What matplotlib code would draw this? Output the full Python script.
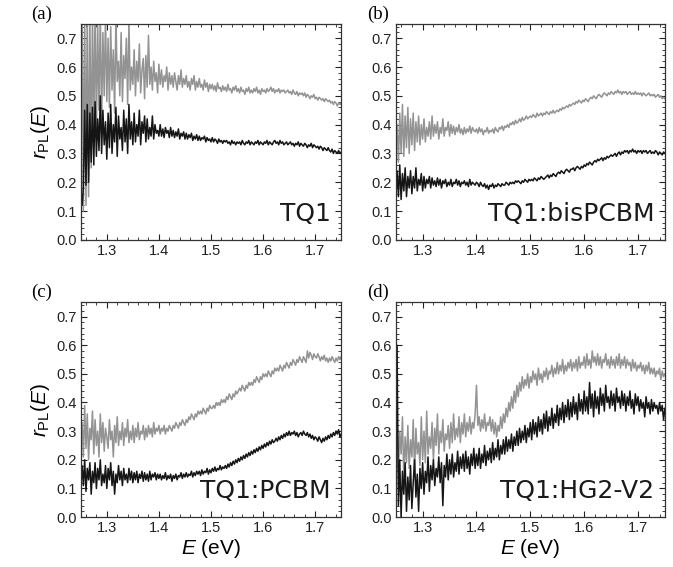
import numpy as np
import matplotlib as mpl
mpl.use('Agg')
import matplotlib.pyplot as plt
from matplotlib.ticker import MultipleLocator

plt.rcParams['font.family'] = ['Liberation Sans', 'DejaVu Sans']
plt.rcParams['mathtext.fontset'] = 'custom'
plt.rcParams['mathtext.rm'] = 'Liberation Sans'
plt.rcParams['mathtext.it'] = 'Liberation Sans:italic'

# energy range (eV); each series is sampled on an even grid of 0.0025 eV
e_min, e_max = 1.25, 1.75

# (a) TQ1
a_gray = [0.10,
          0.80, 0.10, 0.80, 0.12, 0.82, 0.15, 0.78, 0.25, 0.80, 0.35,
          0.82, 0.38, 0.75, 0.45, 0.80, 0.40, 0.72, 0.50, 0.78, 0.48,
          0.70, 0.46, 0.74, 0.52, 0.66, 0.44, 0.78, 0.55, 0.62, 0.50,
          0.72, 0.48, 0.64, 0.56, 0.70, 0.47, 0.76, 0.52, 0.60, 0.54,
          0.66, 0.50, 0.62, 0.55, 0.68, 0.51, 0.59, 0.63, 0.49, 0.64,
          0.53, 0.71, 0.54, 0.60, 0.52, 0.62, 0.55, 0.58, 0.51, 0.61,
          0.54, 0.59, 0.53, 0.57, 0.55, 0.60, 0.52, 0.58, 0.54, 0.57,
          0.53, 0.58, 0.55, 0.52, 0.57, 0.54, 0.59, 0.53, 0.56, 0.54,
          0.57, 0.53, 0.55, 0.52, 0.56, 0.54, 0.57, 0.52, 0.55, 0.53,
          0.56, 0.53, 0.54, 0.52, 0.555, 0.53, 0.545, 0.515, 0.54, 0.525,
          0.54, 0.52, 0.535, 0.515, 0.545, 0.525, 0.53, 0.515, 0.535, 0.52,
          0.53, 0.515, 0.54, 0.52, 0.525, 0.51, 0.53, 0.52, 0.535, 0.515,
          0.525, 0.51, 0.53, 0.515, 0.52, 0.505, 0.525, 0.515, 0.53, 0.51,
          0.52, 0.51, 0.525, 0.515, 0.53, 0.51, 0.52, 0.505, 0.525, 0.515,
          0.52, 0.51, 0.525, 0.515, 0.52, 0.53, 0.515, 0.525, 0.51, 0.52,
          0.515, 0.525, 0.51, 0.52, 0.515, 0.52, 0.51, 0.515, 0.52, 0.51,
          0.515, 0.505, 0.52, 0.51, 0.505, 0.515, 0.50, 0.51, 0.505, 0.51,
          0.50, 0.51, 0.495, 0.505, 0.50, 0.49, 0.50, 0.495, 0.505, 0.49,
          0.495, 0.485, 0.495, 0.49, 0.485, 0.49, 0.48, 0.49, 0.485, 0.48,
          0.485, 0.475, 0.48, 0.47, 0.48, 0.475, 0.465, 0.475, 0.47, 0.475]
a_black = [0.14,
           0.12, 0.18, 0.45, 0.19, 0.47, 0.20, 0.44, 0.27, 0.46, 0.26,
           0.48, 0.29, 0.42, 0.31, 0.50, 0.30, 0.45, 0.33, 0.41, 0.28,
           0.44, 0.32, 0.47, 0.30, 0.40, 0.34, 0.46, 0.29, 0.43, 0.35,
           0.39, 0.31, 0.45, 0.34, 0.42, 0.30, 0.47, 0.35, 0.41, 0.33,
           0.44, 0.34, 0.40, 0.36, 0.45, 0.33, 0.41, 0.37, 0.43, 0.34,
           0.42, 0.35, 0.39, 0.36, 0.43, 0.35, 0.40, 0.37, 0.38, 0.36,
           0.40, 0.36, 0.385, 0.355, 0.39, 0.37, 0.38, 0.355, 0.39, 0.36,
           0.38, 0.355, 0.375, 0.36, 0.385, 0.35, 0.37, 0.36, 0.375, 0.35,
           0.37, 0.35, 0.365, 0.355, 0.37, 0.345, 0.36, 0.35, 0.365, 0.345,
           0.36, 0.345, 0.355, 0.35, 0.36, 0.34, 0.355, 0.345, 0.35, 0.34,
           0.355, 0.34, 0.35, 0.345, 0.335, 0.35, 0.34, 0.345, 0.335, 0.345,
           0.34, 0.345, 0.335, 0.34, 0.33, 0.345, 0.335, 0.34, 0.33, 0.34,
           0.335, 0.34, 0.33, 0.345, 0.335, 0.33, 0.34, 0.335, 0.345, 0.33,
           0.34, 0.335, 0.33, 0.34, 0.335, 0.345, 0.33, 0.34, 0.335, 0.33,
           0.34, 0.335, 0.345, 0.33, 0.34, 0.335, 0.33, 0.34, 0.345, 0.335,
           0.34, 0.33, 0.345, 0.335, 0.34, 0.33, 0.335, 0.34, 0.33, 0.335,
           0.34, 0.33, 0.335, 0.325, 0.335, 0.33, 0.34, 0.325, 0.335, 0.33,
           0.325, 0.335, 0.33, 0.32, 0.33, 0.325, 0.335, 0.32, 0.33, 0.325,
           0.32, 0.325, 0.315, 0.325, 0.32, 0.31, 0.32, 0.315, 0.31, 0.32,
           0.31, 0.305, 0.315, 0.30, 0.31, 0.305, 0.30, 0.31, 0.30, 0.305]

# (b) TQ1:bisPCBM
b_gray = [0.29,
          0.40, 0.27, 0.44, 0.30, 0.47, 0.29, 0.43, 0.32, 0.46, 0.30,
          0.42, 0.33, 0.44, 0.31, 0.41, 0.34, 0.43, 0.33, 0.40, 0.35,
          0.42, 0.34, 0.39, 0.36, 0.41, 0.35, 0.43, 0.36, 0.40, 0.37,
          0.41, 0.35, 0.39, 0.37, 0.42, 0.36, 0.39, 0.38, 0.41, 0.36,
          0.40, 0.37, 0.395, 0.365, 0.39, 0.375, 0.40, 0.37, 0.385, 0.365,
          0.39, 0.37, 0.385, 0.375, 0.395, 0.37, 0.39, 0.38, 0.375, 0.385,
          0.37, 0.39, 0.375, 0.385, 0.365, 0.38, 0.375, 0.39, 0.37, 0.38,
          0.375, 0.385, 0.37, 0.39, 0.38, 0.375, 0.39, 0.385, 0.395, 0.38,
          0.395, 0.39, 0.40, 0.39, 0.405, 0.40, 0.41, 0.40, 0.415, 0.405,
          0.41, 0.42, 0.41, 0.425, 0.415, 0.42, 0.43, 0.42, 0.425, 0.43,
          0.425, 0.435, 0.43, 0.425, 0.44, 0.43, 0.435, 0.44, 0.43, 0.44,
          0.435, 0.445, 0.44, 0.435, 0.445, 0.44, 0.45, 0.44, 0.445, 0.45,
          0.445, 0.455, 0.45, 0.46, 0.455, 0.46, 0.465, 0.46, 0.47, 0.465,
          0.47, 0.475, 0.47, 0.48, 0.475, 0.485, 0.48, 0.475, 0.485, 0.48,
          0.49, 0.485, 0.48, 0.49, 0.495, 0.49, 0.50, 0.495, 0.49, 0.50,
          0.505, 0.50, 0.495, 0.505, 0.51, 0.505, 0.50, 0.51, 0.505, 0.515,
          0.51, 0.505, 0.515, 0.51, 0.52, 0.51, 0.515, 0.505, 0.515, 0.51,
          0.515, 0.505, 0.51, 0.515, 0.505, 0.51, 0.505, 0.515, 0.505, 0.51,
          0.505, 0.51, 0.50, 0.51, 0.505, 0.50, 0.505, 0.51, 0.50, 0.505,
          0.50, 0.505, 0.495, 0.50, 0.505, 0.495, 0.50, 0.49, 0.495, 0.49]
b_black = [0.13,
           0.24, 0.15, 0.26, 0.14, 0.23, 0.17, 0.25, 0.15, 0.22, 0.18,
           0.24, 0.16, 0.22, 0.18, 0.25, 0.17, 0.21, 0.19, 0.23, 0.17,
           0.22, 0.18, 0.21, 0.195, 0.22, 0.18, 0.215, 0.19, 0.205, 0.185,
           0.215, 0.19, 0.21, 0.18, 0.205, 0.195, 0.21, 0.185, 0.20, 0.19,
           0.21, 0.185, 0.20, 0.195, 0.21, 0.19, 0.205, 0.185, 0.20, 0.195,
           0.205, 0.19, 0.20, 0.185, 0.21, 0.19, 0.20, 0.195, 0.19, 0.20,
           0.195, 0.185, 0.20, 0.19, 0.185, 0.195, 0.18, 0.19, 0.175, 0.19,
           0.185, 0.195, 0.18, 0.19, 0.185, 0.195, 0.19, 0.185, 0.195, 0.19,
           0.19, 0.20, 0.195, 0.19, 0.20, 0.195, 0.20, 0.195, 0.205, 0.20,
           0.205, 0.20, 0.195, 0.205, 0.20, 0.21, 0.205, 0.20, 0.21, 0.205,
           0.21, 0.205, 0.215, 0.21, 0.205, 0.215, 0.21, 0.22, 0.215, 0.21,
           0.215, 0.22, 0.225, 0.215, 0.225, 0.22, 0.23, 0.225, 0.22, 0.23,
           0.235, 0.23, 0.24, 0.235, 0.23, 0.24, 0.245, 0.24, 0.235, 0.245,
           0.245, 0.25, 0.24, 0.25, 0.255, 0.25, 0.245, 0.255, 0.25, 0.26,
           0.255, 0.265, 0.26, 0.27, 0.265, 0.26, 0.27, 0.275, 0.27, 0.28,
           0.275, 0.28, 0.285, 0.275, 0.285, 0.28, 0.29, 0.285, 0.29, 0.295,
           0.29, 0.295, 0.30, 0.29, 0.30, 0.305, 0.295, 0.305, 0.30, 0.31,
           0.305, 0.31, 0.30, 0.31, 0.305, 0.315, 0.305, 0.31, 0.30, 0.31,
           0.305, 0.31, 0.30, 0.31, 0.305, 0.31, 0.30, 0.305, 0.31, 0.30,
           0.305, 0.30, 0.31, 0.305, 0.295, 0.305, 0.30, 0.295, 0.305, 0.30]

# (c) TQ1:PCBM
c_gray = [0.22,
          0.33, 0.21, 0.39, 0.24, 0.36, 0.20, 0.31, 0.27, 0.37, 0.22,
          0.34, 0.25, 0.30, 0.21, 0.36, 0.26, 0.33, 0.23, 0.31, 0.28,
          0.24, 0.34, 0.27, 0.30, 0.21, 0.32, 0.26, 0.35, 0.25, 0.30,
          0.27, 0.33, 0.25, 0.31, 0.28, 0.34, 0.26, 0.30, 0.27, 0.32,
          0.26, 0.31, 0.28, 0.33, 0.27, 0.30, 0.29, 0.32, 0.27, 0.31,
          0.28, 0.32, 0.29, 0.31, 0.28, 0.33, 0.29, 0.31, 0.30, 0.32,
          0.29, 0.31, 0.30, 0.32, 0.29, 0.31, 0.30, 0.32, 0.31, 0.30,
          0.32, 0.31, 0.33, 0.32, 0.31, 0.33, 0.32, 0.34, 0.33, 0.32,
          0.34, 0.33, 0.35, 0.34, 0.36, 0.35, 0.34, 0.36, 0.35, 0.37,
          0.36, 0.37, 0.36, 0.38, 0.37, 0.36, 0.38, 0.37, 0.39, 0.38,
          0.38, 0.39, 0.38, 0.40, 0.39, 0.40, 0.39, 0.41, 0.40, 0.41,
          0.40, 0.42, 0.41, 0.43, 0.42, 0.41, 0.43, 0.42, 0.44, 0.43,
          0.44, 0.45, 0.44, 0.46, 0.45, 0.44, 0.46, 0.45, 0.47, 0.46,
          0.47, 0.46, 0.48, 0.47, 0.49, 0.48, 0.47, 0.49, 0.48, 0.50,
          0.49, 0.50, 0.49, 0.51, 0.50, 0.49, 0.51, 0.50, 0.52, 0.51,
          0.52, 0.51, 0.53, 0.52, 0.51, 0.53, 0.52, 0.54, 0.53, 0.52,
          0.54, 0.53, 0.55, 0.54, 0.53, 0.55, 0.54, 0.56, 0.55, 0.54,
          0.56, 0.55, 0.54, 0.58, 0.555, 0.575, 0.565, 0.55, 0.57, 0.56,
          0.555, 0.57, 0.56, 0.545, 0.56, 0.55, 0.565, 0.545, 0.555, 0.54,
          0.555, 0.545, 0.56, 0.55, 0.54, 0.555, 0.545, 0.56, 0.55, 0.56]
c_black = [0.10,
           0.18, 0.11, 0.20, 0.09, 0.17, 0.13, 0.19, 0.08, 0.16, 0.12,
           0.19, 0.10, 0.17, 0.13, 0.20, 0.11, 0.15, 0.12, 0.18, 0.10,
           0.17, 0.13, 0.19, 0.11, 0.16, 0.08, 0.15, 0.12, 0.18, 0.13,
           0.16, 0.11, 0.17, 0.13, 0.15, 0.12, 0.17, 0.13, 0.16, 0.12,
           0.155, 0.13, 0.16, 0.12, 0.15, 0.135, 0.16, 0.125, 0.155, 0.13,
           0.15, 0.125, 0.16, 0.13, 0.15, 0.14, 0.155, 0.13, 0.15, 0.135,
           0.15, 0.13, 0.145, 0.135, 0.155, 0.13, 0.145, 0.135, 0.15, 0.125,
           0.145, 0.135, 0.15, 0.13, 0.145, 0.14, 0.155, 0.135, 0.15, 0.14,
           0.155, 0.14, 0.15, 0.145, 0.16, 0.14, 0.155, 0.145, 0.16, 0.15,
           0.16, 0.145, 0.165, 0.15, 0.16, 0.155, 0.17, 0.15, 0.165, 0.155,
           0.17, 0.16, 0.175, 0.16, 0.17, 0.165, 0.18, 0.165, 0.175, 0.17,
           0.18, 0.17, 0.185, 0.175, 0.19, 0.18, 0.195, 0.185, 0.20, 0.19,
           0.205, 0.195, 0.21, 0.20, 0.215, 0.205, 0.22, 0.21, 0.225, 0.215,
           0.23, 0.22, 0.235, 0.225, 0.24, 0.23, 0.245, 0.235, 0.25, 0.24,
           0.255, 0.245, 0.26, 0.25, 0.265, 0.255, 0.27, 0.26, 0.265, 0.275,
           0.265, 0.28, 0.27, 0.285, 0.275, 0.29, 0.28, 0.295, 0.285, 0.30,
           0.285, 0.295, 0.29, 0.30, 0.285, 0.295, 0.28, 0.29, 0.295, 0.285,
           0.30, 0.29, 0.285, 0.295, 0.28, 0.29, 0.275, 0.285, 0.27, 0.28,
           0.275, 0.265, 0.28, 0.27, 0.26, 0.275, 0.265, 0.28, 0.27, 0.285,
           0.275, 0.29, 0.28, 0.295, 0.285, 0.30, 0.29, 0.305, 0.28, 0.29]

# (d) TQ1:HG2-V2
d_gray = [0.20,
          0.33, 0.16, 0.30, 0.22, 0.35, 0.14, 0.28, 0.19, 0.32, 0.17,
          0.27, 0.21, 0.34, 0.15, 0.31, 0.22, 0.26, 0.18, 0.35, 0.20,
          0.30, 0.19, 0.37, 0.22, 0.28, 0.24, 0.33, 0.20, 0.31, 0.25,
          0.36, 0.22, 0.30, 0.26, 0.34, 0.23, 0.29, 0.27, 0.32, 0.24,
          0.33, 0.26, 0.36, 0.27, 0.31, 0.28, 0.35, 0.26, 0.33, 0.29,
          0.36, 0.28, 0.33, 0.30, 0.35, 0.29, 0.33, 0.31, 0.36, 0.46,
          0.32, 0.35, 0.30, 0.34, 0.31, 0.36, 0.30, 0.33, 0.32, 0.35,
          0.30, 0.34, 0.29, 0.33, 0.28, 0.32, 0.30, 0.35, 0.31, 0.36,
          0.33, 0.38, 0.35, 0.40, 0.37, 0.42, 0.38, 0.44, 0.40, 0.46,
          0.42, 0.47, 0.44, 0.49, 0.45, 0.48, 0.46, 0.50, 0.45, 0.49,
          0.47, 0.51, 0.48, 0.50, 0.46, 0.52, 0.48, 0.50, 0.47, 0.51,
          0.49, 0.52, 0.48, 0.51, 0.50, 0.53, 0.49, 0.52, 0.50, 0.54,
          0.50, 0.53, 0.51, 0.55, 0.50, 0.53, 0.51, 0.54, 0.52, 0.55,
          0.51, 0.54, 0.52, 0.55, 0.51, 0.56, 0.52, 0.54, 0.53, 0.56,
          0.52, 0.57, 0.53, 0.55, 0.52, 0.58, 0.54, 0.56, 0.53, 0.57,
          0.53, 0.56, 0.52, 0.55, 0.54, 0.57, 0.53, 0.55, 0.52, 0.56,
          0.53, 0.55, 0.52, 0.56, 0.53, 0.57, 0.52, 0.55, 0.53, 0.56,
          0.52, 0.55, 0.53, 0.54, 0.51, 0.55, 0.52, 0.54, 0.51, 0.53,
          0.52, 0.54, 0.51, 0.53, 0.50, 0.53, 0.51, 0.54, 0.50, 0.52,
          0.50, 0.52, 0.49, 0.51, 0.50, 0.52, 0.48, 0.51, 0.49, 0.50]
d_black = [0.17,
           0.60, 0.04, 0.20, 0.00, 0.16, 0.08, 0.19, 0.02, 0.14, 0.06,
           0.18, 0.03, 0.12, 0.20, 0.07, 0.15, 0.02, 0.17, 0.10, 0.19,
           0.08, 0.16, 0.12, 0.21, 0.09, 0.18, 0.13, 0.20, 0.11, 0.17,
           0.14, 0.21, 0.12, 0.19, 0.04, 0.18, 0.14, 0.22, 0.13, 0.20,
           0.15, 0.22, 0.14, 0.19, 0.16, 0.23, 0.15, 0.21, 0.17, 0.22,
           0.16, 0.23, 0.17, 0.21, 0.15, 0.22, 0.18, 0.24, 0.17, 0.22,
           0.18, 0.24, 0.17, 0.22, 0.19, 0.25, 0.18, 0.23, 0.20, 0.24,
           0.19, 0.26, 0.20, 0.24, 0.21, 0.27, 0.20, 0.25, 0.22, 0.27,
           0.22, 0.28, 0.23, 0.27, 0.24, 0.29, 0.23, 0.28, 0.25, 0.30,
           0.25, 0.31, 0.26, 0.30, 0.27, 0.32, 0.26, 0.31, 0.28, 0.33,
           0.27, 0.34, 0.29, 0.33, 0.28, 0.35, 0.30, 0.34, 0.29, 0.36,
           0.31, 0.37, 0.30, 0.35, 0.32, 0.38, 0.31, 0.36, 0.33, 0.39,
           0.32, 0.38, 0.34, 0.40, 0.33, 0.39, 0.35, 0.41, 0.34, 0.40,
           0.35, 0.42, 0.36, 0.40, 0.34, 0.43, 0.37, 0.41, 0.36, 0.44,
           0.37, 0.42, 0.36, 0.47, 0.38, 0.43, 0.35, 0.44, 0.38, 0.42,
           0.36, 0.45, 0.39, 0.43, 0.37, 0.46, 0.40, 0.42, 0.38, 0.44,
           0.39, 0.43, 0.37, 0.45, 0.40, 0.42, 0.38, 0.44, 0.39, 0.43,
           0.37, 0.42, 0.39, 0.44, 0.38, 0.41, 0.36, 0.43, 0.39, 0.42,
           0.37, 0.41, 0.38, 0.40, 0.35, 0.42, 0.38, 0.40, 0.36, 0.41,
           0.37, 0.40, 0.38, 0.39, 0.36, 0.40, 0.37, 0.39, 0.34, 0.38]

panels = [
    ("(a)", "TQ1", a_gray, a_black),
    ("(b)", "TQ1:bisPCBM", b_gray, b_black),
    ("(c)", "TQ1:PCBM", c_gray, c_black),
    ("(d)", "TQ1:HG2-V2", d_gray, d_black),
]

# axes rectangles in figure fractions (left, bottom, width, height)
rects = [
    (0.120, 0.577, 0.387, 0.381),
    (0.588, 0.577, 0.400, 0.381),
    (0.120, 0.088, 0.387, 0.379),
    (0.588, 0.088, 0.400, 0.379),
]

fig = plt.figure(figsize=(6.73, 5.67), dpi=100)

for i, (tag, name, gray, black) in enumerate(panels):
    ax = fig.add_axes(rects[i])
    ax.plot(np.linspace(e_min, e_max, len(gray)), gray, color="#939393", lw=1.1)
    ax.plot(np.linspace(e_min, e_max, len(black)), black, color="#151515", lw=1.1)
    ax.set_xlim(e_min, e_max)
    ax.set_ylim(0, 0.75)
    ax.xaxis.set_minor_locator(MultipleLocator(0.02))
    ax.yaxis.set_major_locator(MultipleLocator(0.1))
    ax.yaxis.set_minor_locator(MultipleLocator(0.02))
    ax.set_xticks([1.3, 1.4, 1.5, 1.6, 1.7])
    ax.set_xticklabels(["1.3", "1.4", "1.5", "1.6", "1.7"])
    ax.tick_params(which="both", direction="in", top=True, right=True,
                   labelsize=10.5, colors="#222222", pad=3)
    ax.tick_params(which="major", length=4, width=0.8)
    ax.tick_params(which="minor", length=2, width=0.6)
    for sp in ax.spines.values():
        sp.set_color("#333333")
        sp.set_linewidth(0.9)
    ax.text(0.96, 0.065, name, transform=ax.transAxes, ha="right", va="bottom",
            fontsize=18, color="#1a1a1a", family="DejaVu Sans")
    ax.text(-0.19 if i % 2 == 0 else -0.105, 1.045, tag, transform=ax.transAxes,
            ha="left", va="center", fontsize=13.5, family="Liberation Serif")
    if i % 2 == 0:
        ax.set_ylabel(r"$r_{\mathrm{PL}}(E)$", fontsize=15, labelpad=3)
    if i >= 2:
        ax.set_xlabel(r"$E$ (eV)", fontsize=15, labelpad=1)

fig.savefig("out.png", dpi=100)
